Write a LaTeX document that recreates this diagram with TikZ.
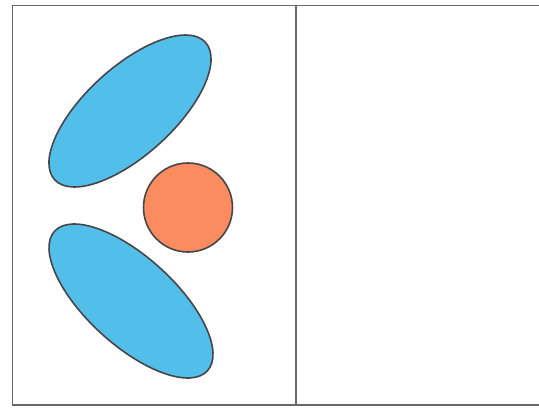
\documentclass[tikz,border=0pt]{standalone}
\definecolor{blobblue}{RGB}{82,190,234}
\definecolor{blobred}{RGB}{250,140,96}
\definecolor{edgegray}{RGB}{70,70,72}
\definecolor{framegray}{RGB}{105,105,108}
\tikzset{
  blob/.style={draw=edgegray, line width=1.6pt},
  frameline/.style={draw=framegray, line width=1.8pt}
}
\begin{document}
\begin{tikzpicture}[x=1pt,y=-1pt]
\useasboundingbox (0,0) rectangle (539,408);
\fill[white] (0,0) rectangle (539,408);
% frame
\draw[frameline] (539,5.5) -- (12.5,5.5) -- (12.5,405) -- (539,405);
\draw[frameline] (296,5.5) -- (296,405);
% shapes
\draw[blob, fill=blobblue, rotate around={42.3:(130,111)}] (130,111) ellipse [x radius=102, y radius=44];
\draw[blob, fill=blobblue, rotate around={-42.4:(131,301)}] (131,301) ellipse [x radius=103.5, y radius=44];
\draw[blob, fill=blobred] (188,207.5) circle [radius=44.5];
\end{tikzpicture}
\end{document}
